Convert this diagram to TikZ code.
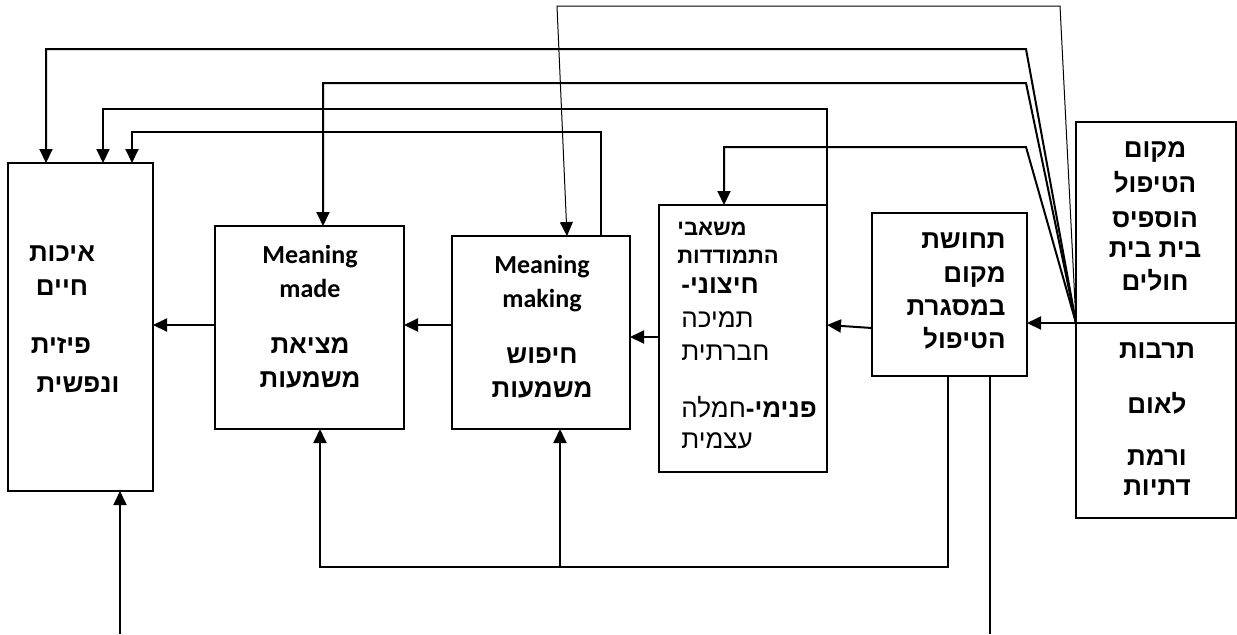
\documentclass[tikz,border=0pt]{standalone}
\usepackage{fontspec}
\usetikzlibrary{arrows.meta}
\TeXXeTstate=1
\newfontfamily\heb[Script=Hebrew]{Liberation Sans}
\newfontfamily\carl{Carlito}
\newcommand\hb[1]{\beginR #1\endR}
\tikzset{
 box/.style={draw, line width=1pt, inner sep=0, outer sep=0},
 conn/.style={line width=1pt},
 arr/.style={conn, -{Triangle[length=7pt,width=6.5pt]}},
 thinline/.style={line width=0.5pt, -{Triangle[length=7pt,width=6.5pt]}},
 hbt/.style={inner sep=0, anchor=base, font=\heb\bfseries\fontsize{13}{16}\selectfont},
 hrt/.style={inner sep=0, anchor=base west, font=\heb\fontsize{13}{16}\selectfont},
 hst/.style={inner sep=0, anchor=base west, font=\heb\bfseries\fontsize{11}{14}\selectfont},
 ent/.style={inner sep=0, anchor=base, font=\carl\bfseries\fontsize{13}{16}\selectfont},
}
\begin{document}
\begin{tikzpicture}[x=0.5pt,y=-0.5pt]
\useasboundingbox (0,0) rectangle (1237,634);
% boxes
\node[box, minimum width=72.5pt, minimum height=164pt] (qol) at (80.5,327) {};
\node[box, minimum width=94.5pt, minimum height=101.5pt] (made) at (309.5,327.5) {};
\node[box, minimum width=89pt, minimum height=96.5pt] (making) at (541,332.5) {};
\node[box, minimum width=84pt, minimum height=133.5pt] (coping) at (743,338.5) {};
\node[box, minimum width=77.5pt, minimum height=81.5pt] (sense) at (949.5,294.5) {};
\node[box, minimum width=80pt, minimum height=100.5pt] (rt) at (1156,222.5) {};
\node[box, minimum width=80pt, minimum height=97.5pt] (rb) at (1156,420.5) {};
% texts: quality of life
\node[hbt] (q1) at (62,261) {\hb{איכות}};
\node[hbt] (q2) at (62,295) {\hb{חיים}};
\node[hbt] (q3) at (61,353) {\hb{פיזית}};
\node[hbt] (q4) at (78,392) {\hb{ונפשית}};
% meaning made
\node[ent] (m1) at (310,263) {Meaning};
\node[ent] (m2) at (310,297) {made};
\node[hbt] (m3) at (310,353) {\hb{מציאת}};
\node[hbt] (m4) at (310,387) {\hb{משמעות}};
% meaning making
\node[ent] (k1) at (542,273) {Meaning};
\node[ent] (k2) at (542,307) {making};
\node[hbt] (k3) at (542,363) {\hb{חיפוש}};
\node[hbt] (k4) at (542,397) {\hb{משמעות}};
% coping
\node[hst] (c1) at (677,235) {\hb{משאבי}};
\node[hst] (c2) at (677,263) {\hb{התמודדות}};
\node[hbt, anchor=base west] (c3) at (681,293) {\hb{חיצוני-}};
\node[hrt] (c4) at (681,327) {\hb{תמיכה}};
\node[hrt] (c5) at (681,360) {\hb{חברתית}};
\node[hrt] (c6) at (681,417) {\hb{{\bfseries פנימי-}חמלה}};
\node[hrt] (c7) at (681,448) {\hb{עצמית}};
% sense of place
\node[hbt, anchor=base east] (s1) at (1006,248) {\hb{תחושת}};
\node[hbt, anchor=base east] (s2) at (1006,282) {\hb{מקום}};
\node[hbt, anchor=base east] (s3) at (1006,315) {\hb{במסגרת}};
\node[hbt, anchor=base east] (s4) at (1006,348) {\hb{הטיפול}};
% right top
\node[hbt] (r1) at (1155,157) {\hb{מקום}};
\node[hbt] (r2) at (1155,192) {\hb{הטיפול}};
\node[hbt] (r3) at (1155,227) {\hb{הוספיס}};
\node[hbt] (r4) at (1155,257) {\hb{בית בית}};
\node[hbt] (r5) at (1155,290) {\hb{חולים}};
% right bottom
\node[hbt] (b1) at (1157,358) {\hb{תרבות}};
\node[hbt] (b2) at (1157,413) {\hb{לאום}};
\node[hbt] (b3) at (1157,465) {\hb{ורמת}};
\node[hbt] (b4) at (1157,495) {\hb{דתיות}};
% connectors
\draw[arr] (made.west |- 0,325) -- (qol.east |- 0,325);
\draw[arr] (making.west |- 0,325) -- (made.east |- 0,325);
\draw[arr] (coping.west |- 0,337) -- (making.east |- 0,337);
\draw[arr] (sense.west |- 0,328) -- (coping.east |- 0,325);
\draw[arr] (rt.south west) -- (sense.east |- 0,323);
\draw[arr] (rt.south west) -- (1026,49) -| (46,0 |- qol.north);
\draw[arr] (rt.south west) -- (1026,83) -| (323,0 |- made.north);
\draw[arr] (rt.south west) -- (1026,147) -| (724,0 |- coping.north);
\draw[thinline] (rt.south west) -- (1060,6) -- (557,6) -- (567,0 |- making.north);
\draw[arr] (coping.north east) -- (827,109) -| (103,0 |- qol.north);
\draw[arr] (601,0 |- making.north) -- (601,132) -| (132,0 |- qol.north);
\draw[arr] (948,0 |- sense.south) -- (948,567) -| (320,0 |- made.south);
\draw[arr] (560,567) -- (560,0 |- making.south);
\coordinate (bendA) at (990,634);
\draw[conn] (990,0 |- sense.south) -- (bendA);
\coordinate (bendB) at (120,634);
\draw[arr] (bendB) -- (120,0 |- qol.south);
\end{tikzpicture}
\end{document}
